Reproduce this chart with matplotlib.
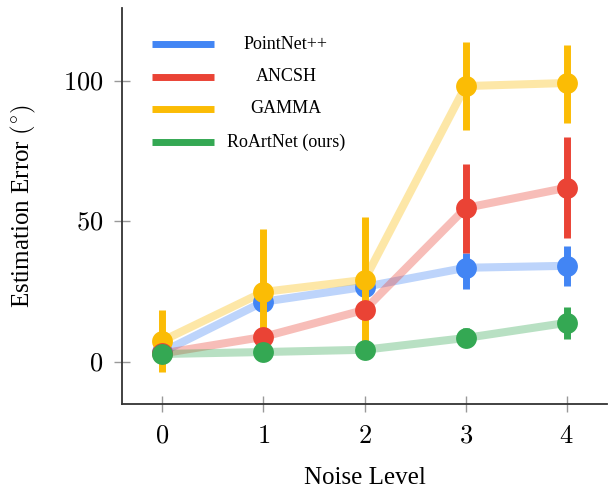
import matplotlib
matplotlib.use("Agg")
import matplotlib.pyplot as plt
import numpy as np

plt.rcParams['mathtext.fontset'] = 'cm'
plt.rcParams['font.family'] = ['Liberation Serif', 'DejaVu Serif']

noise_levels = [0, 1, 2, 3, 4]
series_names = ["PointNet++", "ANCSH", "GAMMA", "RoArtNet (ours)"]
colors = ["#4285F4", "#EA4335", "#FBBC05", "#34A853"]

pointnet_mean = [3.5, 21.4, 26.7, 33.5, 34.2]
pointnet_lo = [3.0, 3.0, 3.0, 7.5, 7.2]
pointnet_hi = [3.0, 3.0, 3.0, 5.3, 7.1]

ancsh_mean = [3.0, 8.9, 18.5, 54.8, 62.0]
ancsh_lo = [2.0, 2.0, 2.0, 16.0, 18.0]
ancsh_hi = [2.0, 2.0, 2.0, 15.7, 18.0]

gamma_mean = [7.5, 24.9, 29.2, 98.2, 99.3]
gamma_lo = [11.0, 15.0, 24.0, 15.6, 14.3]
gamma_hi = [11.0, 22.4, 22.4, 15.8, 13.7]

roart_mean = [2.8, 3.5, 4.3, 8.5, 13.9]
roart_lo = [1.0, 1.0, 1.0, 3.0, 5.7]
roart_hi = [1.0, 1.0, 1.0, 3.5, 5.7]

means = [pointnet_mean, ancsh_mean, gamma_mean, roart_mean]
los = [pointnet_lo, ancsh_lo, gamma_lo, roart_lo]
his = [pointnet_hi, ancsh_hi, gamma_hi, roart_hi]

x_ticks = [0, 1, 2, 3, 4]
y_ticks = [0, 50, 100]

fig = plt.figure(figsize=(6.12, 4.92), dpi=100)
ax = fig.add_axes([0.1993, 0.1789, 0.7927, 0.8048])

# faded connecting lines
for m, c in zip(means, colors):
    ax.plot(noise_levels, m, color=c, lw=5.8, alpha=0.35, solid_capstyle='butt', zorder=1)

# error bars + markers, order: blue, yellow, red, green
order = [0, 2, 1, 3]
for k, i in enumerate(order):
    ax.errorbar(noise_levels, means[i], yerr=[los[i], his[i]], fmt='o', color=colors[i],
                ms=15, elinewidth=5, capsize=0, zorder=3 + k, mew=0)

ax.set_xlim(-0.4, 4.4)
ax.set_ylim(-15, 126)
ax.set_xticks(x_ticks)
ax.set_xticklabels([f"${v}$" for v in x_ticks])
ax.set_yticks(y_ticks)
ax.set_yticklabels([f"${v}$" for v in y_ticks])
ax.tick_params(direction='inout', length=11, width=1, color='#999999', labelsize=19, pad=4)
ax.tick_params(axis='x', pad=10)
ax.tick_params(axis='y', pad=8)

for s in ['top', 'right']:
    ax.spines[s].set_visible(False)
for s in ['left', 'bottom']:
    ax.spines[s].set_color('#333333')
    ax.spines[s].set_linewidth(1.3)

ax.set_xlabel("Noise Level", fontsize=18, labelpad=14)
ax.set_ylabel(r"Estimation Error $(^{\circ})$", fontsize=18, labelpad=18)

# manual legend (centered text)
leg_y = [0.909, 0.826, 0.745, 0.662]
for name, c, yy in zip(series_names, colors, leg_y):
    ax.plot([0.062, 0.190], [yy, yy], transform=ax.transAxes, color=c, lw=5, solid_capstyle='butt', zorder=10)
    ax.text(0.338, yy, name, transform=ax.transAxes, ha='center', va='center', fontsize=13, zorder=10)

fig.savefig("out.png", dpi=100)
